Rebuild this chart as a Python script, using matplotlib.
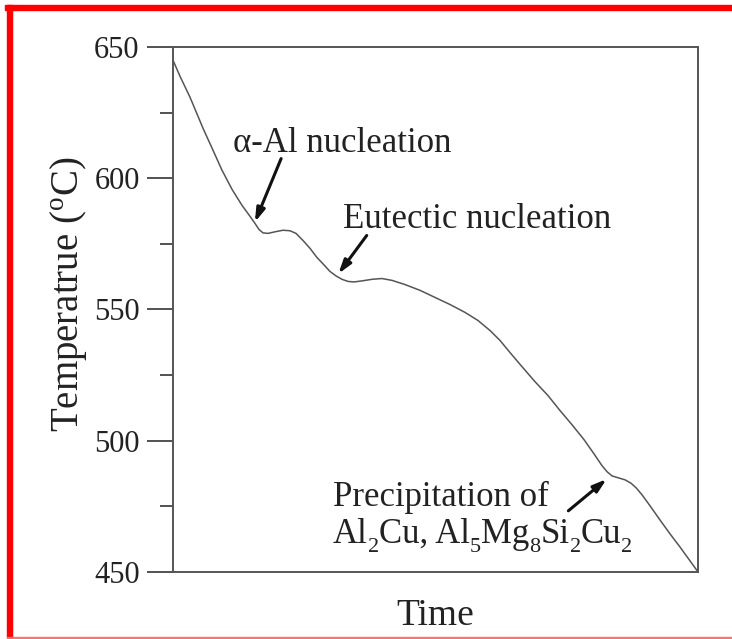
import numpy as np
from matplotlib import pyplot as plt
from matplotlib.patches import Rectangle

# cooling curve (time in arbitrary units 0-100)
time = [0.0, 1.33, 3.24, 5.71, 7.62, 9.33, 11.24, 13.14, 14.67, 15.62, 16.38,
        17.14, 18.10, 19.43, 20.95, 22.29, 23.43, 24.76, 26.10, 27.43, 28.76,
        29.90, 31.05, 32.19, 33.33, 34.48, 36.0, 37.90, 39.81, 41.71, 44.19,
        47.05, 49.90, 52.76, 55.62, 58.10, 60.38, 62.29, 64.19, 66.48, 68.95,
        71.43, 73.71, 76.0, 78.29, 80.19, 81.71, 82.67, 83.62, 84.76, 86.10,
        87.24, 88.19, 89.33, 90.86, 92.76, 94.67, 96.57, 98.48, 100.0]
temp = [645.0, 638.9, 630.9, 619.1, 610.7, 603.1, 595.8, 589.7, 585.5, 582.8,
        580.5, 579.2, 579.0, 579.6, 580.2, 580.0, 579.0, 576.3, 573.3, 569.8,
        567.0, 564.5, 562.8, 561.5, 560.7, 560.5, 560.9, 561.5, 561.8, 561.1,
        559.5, 557.3, 554.6, 551.9, 548.9, 545.8, 542.0, 538.2, 533.6, 528.2,
        522.5, 517.2, 511.5, 506.1, 500.4, 495.0, 490.5, 488.2, 486.6, 485.9,
        485.1, 483.8, 482.1, 479.4, 475.2, 469.8, 464.5, 459.5, 454.2, 450.0]

# annotations: text, baseline position, arrow tail, arrow head
label_lines = ['α-Al nucleation', 'Eutectic nucleation', 'Precipitation of']
label_pos = [(11.5, 610.0), (32.4, 580.9), (30.5, 475.2)]
# second line of the last label, pieces flagged 1 are subscripts
formula = [('Al', 0), ('2', 1), ('Cu, Al', 0), ('5', 1), ('Mg', 0), ('8', 1),
           ('Si', 0), ('2', 1), ('Cu', 0), ('2', 1)]
formula_pos = (30.5, 461.2)
arrow_tails = [(20.6, 607.5), (36.9, 578.2), (75.3, 473.3)]
arrow_heads = [(15.6, 583.3), (31.5, 563.6), (82.6, 485.4)]

yticks = [450, 500, 550, 600, 650]

plt.rcParams['font.family'] = ['Liberation Serif', 'DejaVu Serif']
plt.rcParams['mathtext.fontset'] = 'custom'
plt.rcParams['mathtext.rm'] = 'Liberation Serif'
plt.rcParams['mathtext.it'] = 'Liberation Serif'

fig = plt.figure(figsize=(7.32, 6.39), dpi=100)
ax = fig.add_axes([0.2363, 0.1049, 0.9536 - 0.2363, 0.9264 - 0.1049])

ax.plot(time, temp, color='#555555', linewidth=1.1)

for tail, head in zip(arrow_tails, arrow_heads):
    ax.annotate('', xy=head, xytext=tail,
                arrowprops=dict(arrowstyle='-|>,head_length=0.8,head_width=0.25',
                                color='#111111', linewidth=2.2,
                                shrinkA=0, shrinkB=0))

for lab, pos in zip(label_lines, label_pos):
    ax.text(pos[0], pos[1], lab, fontsize=25, color='#222222',
            ha='left', va='baseline')

ax.set_xlim(0, 100)
ax.set_ylim(450, 650)
ax.set_xticks([])
ax.set_yticks(yticks)
ax.set_yticks([475, 525, 575, 625], minor=True)
ax.tick_params(axis='y', which='major', direction='out', length=19, width=1.3,
               pad=5, labelsize=22, colors='#444444', labelcolor='#222222')
ax.tick_params(axis='y', which='minor', direction='out', length=9.5, width=1.3,
               colors='#444444')
for s in ax.spines.values():
    s.set_color('#555555')
    s.set_linewidth(1.4)

ax.set_xlabel('Time', fontsize=27, color='#222222', labelpad=19)
ax.set_ylabel('Temperatrue ($^\\mathregular{o}$C)', fontsize=28,
              color='#222222')
ax.yaxis.set_label_coords(-0.160, 0.528)

# formula line with low, small subscripts, laid out piece by piece
renderer = fig.canvas.get_renderer()
x0, y0 = ax.transData.transform(formula_pos)
for piece, sub in formula:
    size = 16 if sub else 25
    dy = -9 if sub else 0
    t = fig.text(x0 / fig.dpi / fig.get_figwidth(),
                 (y0 + dy) / fig.dpi / fig.get_figheight(),
                 piece, fontsize=size, color='#222222', ha='left', va='baseline')
    x0 += t.get_window_extent(renderer).width

# red frame around the picture
fig.patches.append(Rectangle((5 / 732, 1 - 10 / 639), 1 - 5 / 732, 5 / 639,
                             transform=fig.transFigure, color='#ff0000', zorder=5))
fig.patches.append(Rectangle((7 / 732, 1 / 639), 5 / 732, 1 - 6 / 639,
                             transform=fig.transFigure, color='#ff0000', zorder=5))
fig.patches.append(Rectangle((7 / 732, 0.5 / 639), 1 - 7 / 732, 1.5 / 639,
                             transform=fig.transFigure, color='#ff7070', zorder=5))

fig.savefig('out.png', dpi=100)
